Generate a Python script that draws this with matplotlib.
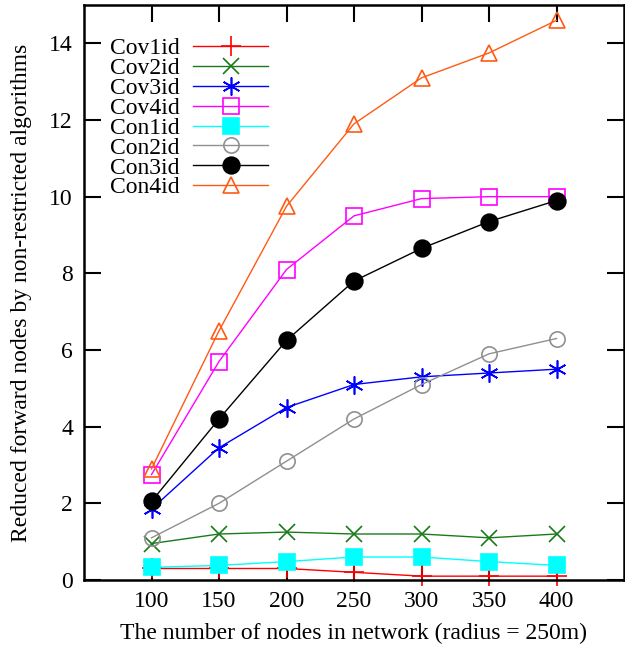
import matplotlib.pyplot as plt

plt.rcParams['font.family'] = ['Liberation Serif', 'DejaVu Serif']

nodes = [100, 150, 200, 250, 300, 350, 400]

cov1id = [0.3, 0.3, 0.3, 0.2, 0.1, 0.1, 0.1]
cov2id = [0.95, 1.2, 1.25, 1.2, 1.2, 1.1, 1.2]
cov3id = [1.85, 3.45, 4.5, 5.1, 5.3, 5.4, 5.5]
cov4id = [2.75, 5.7, 8.1, 9.5, 9.95, 10.0, 10.0]
con1id = [0.33, 0.38, 0.48, 0.6, 0.6, 0.48, 0.38]
con2id = [1.1, 2.0, 3.1, 4.2, 5.1, 5.9, 6.3]
con3id = [2.05, 4.2, 6.25, 7.8, 8.65, 9.35, 9.9]
con4id = [2.9, 6.5, 9.75, 11.9, 13.1, 13.75, 14.6]

series = [
    ('Cov1id', cov1id, '#ff0000', '+', 'none', 14),
    ('Cov2id', cov2id, '#1a7a1a', 'x', 'none', 12),
    ('Cov3id', cov3id, '#0000ff', (6, 2, 0), 'none', 13),
    ('Cov4id', cov4id, '#ff00ff', 's', 'none', 11),
    ('Con1id', con1id, '#00ffff', 's', '#00ffff', 12),
    ('Con2id', con2id, '#909090', 'o', 'none', 11),
    ('Con3id', con3id, '#000000', 'o', '#000000', 12),
    ('Con4id', con4id, '#ff5a14', '^', 'none', 12),
]

fig = plt.figure(figsize=(6.25, 6.53), dpi=100)
ax = fig.add_axes([0.1344, 0.1118, 0.864, 0.8805])

for name, vals, color, marker, face, ms in series:
    ax.plot(nodes, vals, color=color, lw=1.0, marker=marker, markersize=ms,
            markerfacecolor=face, markeredgecolor=color, markeredgewidth=1.2,
            label=name, clip_on=False)

ax.set_xlim(50, 450)
ax.set_ylim(0, 15)
ax.set_xticks(nodes)
ax.set_yticks(range(0, 15, 2))
ax.tick_params(direction='in', length=12, width=1.5, labelsize=17,
               top=True, right=True, pad=8)
for s in ax.spines.values():
    s.set_linewidth(1.8)

ax.set_xlabel('The number of nodes in network (radius = 250m)', fontsize=17,
              labelpad=8)
ax.set_ylabel('Reduced forward nodes by non-restricted algorithms', fontsize=17,
              labelpad=12)

ax.legend(loc='upper left', bbox_to_anchor=(0.009, 0.98), frameon=False,
          markerfirst=False, fontsize=17, labelspacing=-0.07, handlelength=3.2,
          handletextpad=0.55)

fig.savefig('out.png', dpi=100)
